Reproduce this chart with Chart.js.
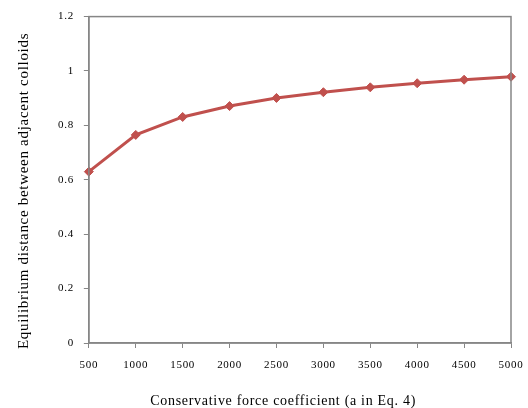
<!DOCTYPE html>
<html><head><meta charset="utf-8">
<script src="https://cdn.jsdelivr.net/npm/chart.js@4/dist/chart.umd.min.js"></script>
<style>html,body{margin:0;padding:0;background:#fff;}</style>
</head><body>
<canvas id="c" width="528" height="408"></canvas>
<script>
const categories = ["500","1000","1500","2000","2500","3000","3500","4000","4500","5000"];
const distance = [0.630, 0.765, 0.831, 0.871, 0.901, 0.922, 0.940, 0.955, 0.968, 0.979];
const yTicks = [0, 0.2, 0.4, 0.6, 0.8, 1, 1.2];
const xTitle = 'Conservative force coefficient (a in Eq. 4)';
const yTitle = 'Equilibrium distance between adjacent colloids';

const spacing = {
  id: 'spacing',
  beforeUpdate(chart) { chart.ctx.letterSpacing = '0.7px'; },
  beforeDraw(chart) { chart.ctx.letterSpacing = '0.7px'; }
};
const frame = {
  id: 'frame',
  afterDraw(chart) {
    const a = chart.chartArea, ctx = chart.ctx;
    ctx.save();
    ctx.strokeStyle = '#868686';
    ctx.lineWidth = 1.5;
    ctx.strokeRect(a.left, a.top, a.right - a.left, a.bottom - a.top);
    ctx.restore();
  }
};
const pad = n => '\u00a0'.repeat(n);

new Chart(document.getElementById('c'), {
  type: 'line',
  data: {
    labels: categories,
    datasets: [{
      data: distance,
      borderColor: '#C0504D',
      backgroundColor: '#C0504D',
      borderWidth: 3,
      pointStyle: 'rectRot',
      pointRadius: 4.5,
      pointBorderWidth: 1,
      tension: 0,
      clip: false
    }]
  },
  options: {
    responsive: false,
    animation: false,
    layout: { padding: { left: 15, right: 4, top: 10, bottom: -2 } },
    plugins: { legend: { display: false }, tooltip: { enabled: false } },
    scales: {
      x: {
        type: 'category',
        offset: false,
        afterFit(axis) { axis.paddingRight = 17; },
        grid: { display: true, drawOnChartArea: false, drawTicks: true, tickLength: 5, color: '#868686' },
        border: { display: true, color: '#868686', width: 1.5 },
        ticks: { color: '#000', font: { family: 'Liberation Serif', size: 11 }, padding: 11, maxRotation: 0, autoSkip: false },
        title: { display: true, text: xTitle + pad(8), color: '#000', font: { family: 'Liberation Serif', size: 14 }, padding: { top: 10, bottom: 0 } }
      },
      y: {
        min: 0, max: 1.2,
        afterBuildTicks(axis) { axis.ticks = yTicks.map(v => ({ value: v })); },
        grid: { display: true, drawOnChartArea: false, drawTicks: true, tickLength: 5, color: '#868686' },
        border: { display: true, color: '#868686', width: 1.5 },
        ticks: { color: '#000', font: { family: 'Liberation Serif', size: 11 }, padding: 10, callback: v => String(v) },
        title: { display: true, text: yTitle + pad(5), color: '#000', font: { family: 'Liberation Serif', size: 15 }, padding: { top: 0, bottom: 15 } }
      }
    }
  },
  plugins: [spacing, frame]
});
</script>
</body></html>
